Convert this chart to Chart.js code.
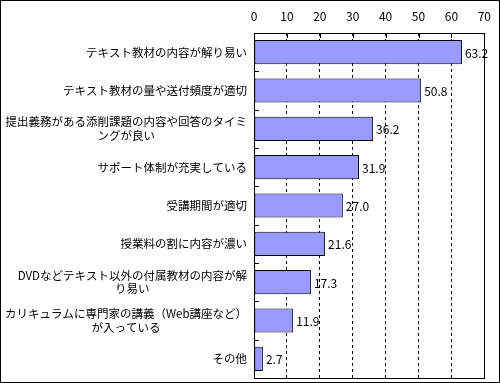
<!DOCTYPE html>
<html>
<head>
<meta charset="utf-8">
<script src="https://cdn.jsdelivr.net/npm/chart.js@4/dist/chart.umd.min.js"></script>
<style>
  body { margin: 0; background: #fff; }
  .chart_div { width: 500px; height: 383px; position: relative; }
</style>
</head>
<body>
<div class="chart_div"><canvas id="myChart" width="500" height="383"></canvas></div>
<script>
// data
const categories = [
    ["テキスト教材の内容が解り易い"],
    ["テキスト教材の量や送付頻度が適切"],
    ["提出義務がある添削課題の内容や回答のタイミ", "ングが良い"],
    ["サポート体制が充実している"],
    ["受講期間が適切"],
    ["授業料の割に内容が濃い"],
    ["DVDなどテキスト以外の付属教材の内容が解", "り易い"],
    ["カリキュラムに専門家の講義（Web講座など）", "が入っている"],
    ["その他"]
];
const values = [63.2, 50.8, 36.2, 31.9, 27.0, 21.6, 17.3, 11.9, 2.7];
const xMin = 0;
const xMax = 70;
const xStep = 10;

const fontFamily = '"Noto Sans CJK JP", "Noto Sans", sans-serif';

// labels, tick marks, value labels and frame
const drawExtras = {
    id: 'drawExtras',
    afterDatasetsDraw(chart) {
        const ctx = chart.ctx;
        const area = chart.chartArea;
        const xs = chart.scales.x;
        const ys = chart.scales.y;
        ctx.save();
        ctx.strokeStyle = '#000';
        ctx.lineWidth = 1;

        // plot frame
        ctx.strokeRect(Math.round(area.left) + 0.5, Math.round(area.top) + 0.5,
            Math.round(area.right - area.left), Math.round(area.bottom - area.top));

        // top tick marks
        ctx.beginPath();
        for (let v = xMin; v <= xMax; v += xStep) {
            const px = Math.round(xs.getPixelForValue(v)) + 0.5;
            ctx.moveTo(px, area.top);
            ctx.lineTo(px, area.top + 5);
        }
        // category tick marks on the left axis
        const step = (area.bottom - area.top) / categories.length;
        for (let i = 1; i < categories.length; i++) {
            const py = Math.round(area.top + step * i) + 0.5;
            ctx.moveTo(area.left, py);
            ctx.lineTo(area.left + 5, py);
        }
        ctx.stroke();

        // category labels, lines centred inside a right aligned block
        ctx.fillStyle = '#000';
        ctx.font = '11.5px ' + fontFamily;
        ctx.textBaseline = 'middle';
        ctx.textAlign = 'center';
        const lineH = 13.5;
        categories.forEach((lines, i) => {
            const cy = ys.getPixelForValue(i);
            let maxW = 0;
            lines.forEach(l => { maxW = Math.max(maxW, ctx.measureText(l).width); });
            const cx = area.left - 7 - maxW / 2;
            const y0 = cy - (lines.length - 1) * lineH / 2;
            lines.forEach((l, j) => ctx.fillText(l, cx, y0 + j * lineH));
        });

        // value labels
        ctx.font = '12px ' + fontFamily;
        ctx.textAlign = 'left';
        const meta = chart.getDatasetMeta(0);
        meta.data.forEach((bar, i) => {
            ctx.fillText(values[i].toFixed(1), bar.x + 3, bar.y + 1);
        });

        ctx.restore();
    },
    afterDraw(chart) {
        const ctx = chart.ctx;
        ctx.save();
        ctx.strokeStyle = '#000';
        ctx.lineWidth = 1;
        ctx.strokeRect(0.5, 0.5, chart.width - 1, chart.height - 1);
        ctx.restore();
    }
};

const ctx = document.getElementById('myChart');
const chart = new Chart(ctx, {
    type: 'bar',
    data: {
        labels: categories.map(c => c.join('')),
        datasets: [{
            data: values,
            backgroundColor: '#9999FF',
            borderColor: '#000000',
            borderWidth: 1,
            borderSkipped: false,
            barPercentage: 0.63,
            categoryPercentage: 1
        }]
    },
    options: {
        indexAxis: 'y',
        responsive: false,
        animation: false,
        devicePixelRatio: 1,
        layout: { padding: { top: 0, right: 13, bottom: 5, left: 0 } },
        plugins: {
            legend: { display: false },
            tooltip: { enabled: false }
        },
        scales: {
            x: {
                position: 'top',
                min: xMin,
                max: xMax,
                ticks: {
                    stepSize: xStep,
                    color: '#000',
                    padding: 9,
                    font: { family: fontFamily, size: 12 }
                },
                grid: {
                    color: '#000',
                    drawTicks: false
                },
                border: { display: false, dash: [3, 3] },
                afterFit(scale) { scale.height = 33; }
            },
            y: {
                ticks: { display: false },
                grid: { display: false },
                border: { display: false },
                afterFit(scale) { scale.width = 254; }
            }
        }
    },
    plugins: [drawExtras]
});
</script>
</body>
</html>
